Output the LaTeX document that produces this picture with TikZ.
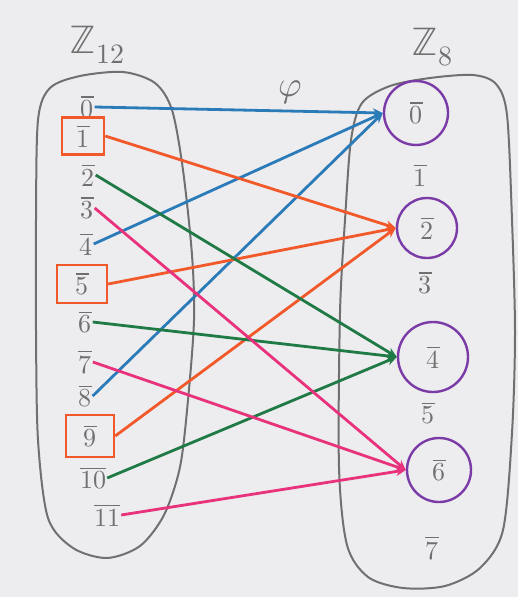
\documentclass[tikz,border=0pt]{standalone}
\usepackage{amsmath}
\usepackage{unicode-math}
\usepackage{tikz}
\usepackage{xcolor}
\usetikzlibrary{arrows.meta,positioning}
\definecolor{paper}{HTML}{EDECEF}
\definecolor{pencil}{HTML}{707070}
\definecolor{mblue}{HTML}{2B7BB9}
\definecolor{morange}{HTML}{F2592A}
\definecolor{mgreen}{HTML}{1F7A45}
\definecolor{mpink}{HTML}{E8327C}
\definecolor{mpurple}{HTML}{7B3BA6}
\tikzset{
  elem/.style={text=pencil,font=\fontsize{26}{28}\selectfont,inner sep=1pt},
  boxed/.style={elem,draw=morange,line width=2.4pt,minimum width=44pt,minimum height=38pt},
  ringed/.style={elem,draw=mpurple,line width=2.4pt,circle,minimum size=64pt},
  mapto/.style={line width=2.8pt,-{Stealth[length=10pt,width=9pt]}},
}

\begin{document}
\begin{tikzpicture}[x=1pt,y=-1pt]
\fill[paper] (0,0) rectangle (518,597);
\useasboundingbox (0,0) rectangle (518,597);
% the two sets
\draw[pencil,line width=2pt] plot[smooth cycle] coordinates {(38,120) (50,88) (80,76) (123,72) (155,83) (172,110) (183,170) (192,255) (194,320) (188,400) (180,467) (164,515) (140,546) (107,558) (73,548) (48,518) (38,440) (36,330) (36,220)};
\draw[pencil,line width=2pt] plot[smooth cycle] coordinates {(430,78) (473,75) (496,84) (507,115) (512,220) (515,333) (512,433) (503,530) (480,568) (445,586) (403,588) (368,577) (347,545) (339,467) (340,313) (345,220) (351,140) (362,103) (390,86)};
\node[elem,font=\fontsize{40}{42}\selectfont] (zl) at (97,45) {$\mathbb{Z}_{12}$};
\node[elem,font=\fontsize{40}{42}\selectfont] (zr) at (432,47) {$\mathbb{Z}_8$};
\node[elem,font=\fontsize{36}{38}\selectfont] (phi) at (290,92) {$\varphi$};
% Z12
\node[elem] (l0) at (87,107) {$\overline{0}$};
\node[boxed,minimum width=42pt,minimum height=37pt] (l1) at (83,136) {$\overline{1}$};
\node[elem] (l2) at (88,175) {$\overline{2}$};
\node[elem] (l3) at (87,208) {$\overline{3}$};
\node[elem] (l4) at (86,244) {$\overline{4}$};
\node[boxed,minimum width=50pt] (l5) at (82,284) {$\overline{5}$};
\node[elem] (l6) at (85,322) {$\overline{6}$};
\node[elem] (l7) at (85,362) {$\overline{7}$};
\node[elem] (l8) at (85,396) {$\overline{8}$};
\node[boxed,minimum width=48pt,minimum height=42pt] (l9) at (90,436) {$\overline{9}$};
\node[elem] (l10) at (93,478) {$\overline{10}$};
\node[elem] (l11) at (107,515) {$\overline{11}$};
% Z8
\node[ringed] (r0) at (416,113) {$\overline{0}$};
\node[elem] (r1) at (420,175) {$\overline{1}$};
\node[ringed,minimum size=60pt] (r2) at (427,228) {$\overline{2}$};
\node[elem] (r3) at (425,283) {$\overline{3}$};
\node[ringed,minimum size=70pt] (r4) at (433,357) {$\overline{4}$};
\node[elem] (r5) at (428,413) {$\overline{5}$};
\node[ringed] (r6) at (439,470) {$\overline{6}$};
\node[elem] (r7) at (432,548) {$\overline{7}$};
% the map
\foreach \a in {0,4,8} \draw[mapto,mblue] (l\a.east) -- (r0.west);
\foreach \a in {1,5,9} \draw[mapto,morange] (l\a.east) -- (r2.west);
\foreach \a in {2,6,10} \draw[mapto,mgreen] (l\a.east) -- (r4.west);
\foreach \a in {3,7,11} \draw[mapto,mpink] (l\a.east) -- (r6.west);
\end{tikzpicture}
\end{document}
